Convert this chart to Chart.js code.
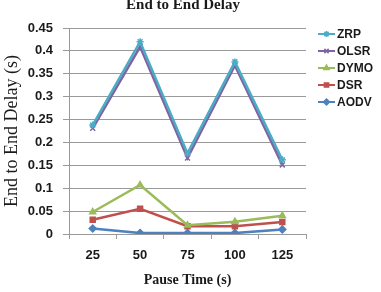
<!DOCTYPE html>
<html>
<head>
<meta charset="utf-8">
<script src="https://cdn.jsdelivr.net/npm/chart.js@4"></script>
<style>
  body { margin: 0; background: #fff; }
  #wrap { width: 381px; height: 292px; }
</style>
</head>
<body>
<div id="wrap"><canvas id="delay-chart" width="381" height="292"></canvas></div>
<script>
// data
const pause_times = ['25', '50', '75', '100', '125'];
const zrp  = [0.238, 0.420, 0.176, 0.376, 0.162];
const olsr = [0.231, 0.409, 0.166, 0.368, 0.151];
const dymo = [0.048, 0.107, 0.019, 0.027, 0.040];
const dsr  = [0.031, 0.055, 0.017, 0.017, 0.026];
const aodv = [0.012, 0.002, 0.002, 0.002, 0.010];
const series_names = ['ZRP', 'OLSR', 'DYMO', 'DSR', 'AODV'];
const series_colors = ['#4BACC6', '#8064A2', '#9BBB59', '#C0504D', '#4F81BD'];
const series_markers = ['star', 'crossRot', 'triangle', 'rect', 'rectRot'];
const series_values = [zrp, olsr, dymo, dsr, aodv];

const grid_color = '#9a9a9a';
const text_color = '#1a1a1a';

// title + legend drawn by hand (legend is line + marker like excel)
const extras = {
    id: 'extras',
    afterDraw(chart) {
        const ctx = chart.ctx;
        ctx.save();
        ctx.fillStyle = text_color;
        ctx.font = 'bold 15px "Liberation Serif"';
        ctx.textAlign = 'center';
        ctx.textBaseline = 'alphabetic';
        ctx.fillText('End to End Delay', 183, 9);

        ctx.font = 'bold 12px "Liberation Sans"';
        ctx.textAlign = 'left';
        ctx.textBaseline = 'middle';
        chart.data.datasets.forEach((ds, i) => {
            let y = 34 + i * 17;
            ctx.strokeStyle = ds.borderColor;
            ctx.fillStyle = ds.borderColor;
            ctx.lineWidth = 2;
            ctx.beginPath();
            ctx.moveTo(318, y);
            ctx.lineTo(335, y);
            ctx.stroke();
            ctx.lineWidth = 1.5;
            Chart.helpers.drawPoint(ctx, {
                pointStyle: ds.pointStyle,
                radius: 3,
                borderWidth: 1.5,
                rotation: 0
            }, 326.5, y);
            ctx.fillStyle = text_color;
            ctx.fillText(ds.label, 337, y + 1);
        });
        ctx.restore();
    }
};

let datasets = series_names.map((name, i) => ({
    label: name,
    data: series_values[i],
    borderColor: series_colors[i],
    backgroundColor: series_colors[i],
    pointStyle: series_markers[i],
    pointRadius: 3.5,
    pointHoverRadius: 3.5,
    pointBorderWidth: 1.5,
    borderWidth: 2.5,
    tension: 0,
    fill: false
}));

let ctx = document.getElementById('delay-chart');
let chart = new Chart(ctx, {
    type: 'line',
    data: { labels: pause_times, datasets: datasets },
    options: {
        responsive: false,
        animation: false,
        layout: { padding: { top: 28, right: 75, bottom: 0, left: 0 } },
        plugins: {
            legend: { display: false },
            title: { display: false },
            tooltip: { enabled: false }
        },
        scales: {
            x: {
                offset: true,
                afterFit: (scale) => { scale.height = 58; },
                grid: {
                    offset: true,
                    drawOnChartArea: false,
                    tickLength: 5,
                    color: grid_color
                },
                border: { color: grid_color, width: 1 },
                ticks: {
                    padding: 9,
                    color: text_color,
                    font: { family: 'Liberation Sans', size: 13, weight: 'bold' }
                },
                title: {
                    display: true,
                    text: 'Pause Time (s)',
                    color: text_color,
                    padding: { top: 0, bottom: 3 },
                    font: { family: 'Liberation Serif', size: 14, weight: 'bold' }
                }
            },
            y: {
                min: 0,
                max: 0.45,
                afterFit: (scale) => { scale.width = 69; },
                grid: { color: grid_color, tickLength: 6 },
                border: { color: grid_color, width: 1 },
                ticks: {
                    stepSize: 0.05,
                    padding: 10,
                    color: text_color,
                    font: { family: 'Liberation Sans', size: 13, weight: 'bold' },
                    callback: (v) => String(parseFloat(v.toFixed(2)))
                },
                title: {
                    display: true,
                    text: 'End to End Delay (s)',
                    color: text_color,
                    padding: { top: 1, bottom: 0 },
                    font: { family: 'Liberation Serif', size: 18, weight: 'normal' }
                }
            }
        }
    },
    plugins: [extras]
});
</script>
</body>
</html>
